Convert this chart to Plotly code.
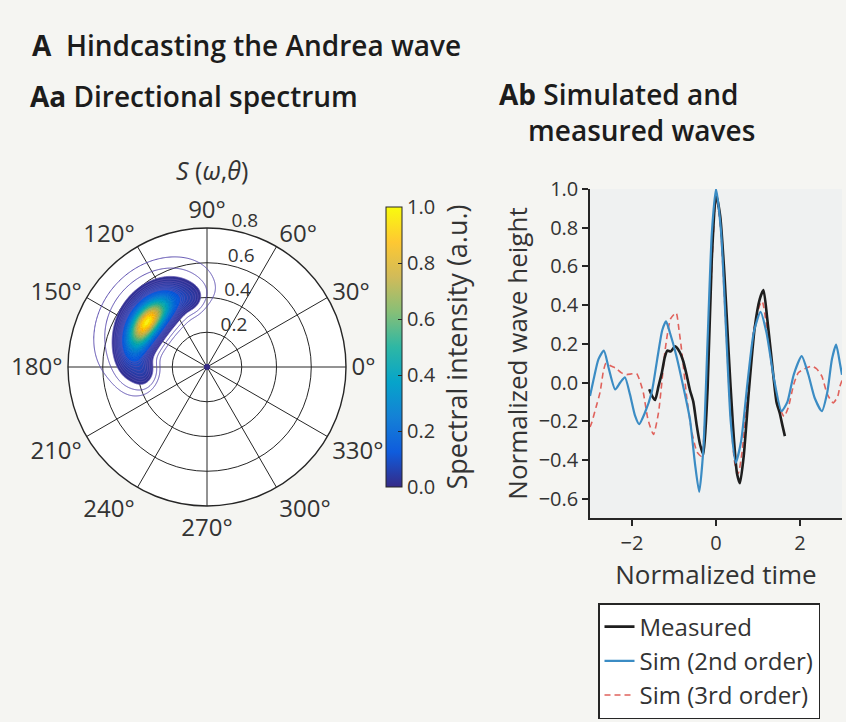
import numpy as np
import plotly.graph_objects as go
from plotly.colors import sample_colorscale

W, H = 846, 722
FONT = "Open Sans"
INK = "#262626"
TXT = "#333333"

# ---------------- wave records (normalized time vs normalized height) ----------------
t_meas = [-1.59, -1.52, -1.45, -1.37, -1.29, -1.22, -1.16, -1.08, -0.97, -0.87, -0.78,
          -0.70, -0.62, -0.54, -0.46, -0.38, -0.30, -0.20, -0.10, 0.0, 0.10, 0.20,
          0.30, 0.40, 0.50, 0.57, 0.66, 0.78, 0.92, 1.04, 1.13, 1.22, 1.32, 1.44,
          1.52, 1.58, 1.64]
h_meas = [-0.035, -0.07, -0.09, -0.02, 0.05, 0.13, 0.165, 0.16, 0.187, 0.16, 0.11,
          0.04, -0.04, -0.10, -0.22, -0.32, -0.372, -0.03, 0.64, 0.97, 0.86, 0.56,
          0.16, -0.21, -0.47, -0.52, -0.38, -0.05, 0.28, 0.43, 0.478, 0.33, 0.13, -0.10,
          -0.16, -0.22, -0.277]

t_sim2 = [-3.0, -2.90, -2.80, -2.67, -2.55, -2.40, -2.28, -2.17, -2.05, -1.93, -1.83,
          -1.70, -1.53, -1.40, -1.28, -1.19, -1.10, -0.94, -0.78, -0.62, -0.50, -0.40,
          -0.30, -0.20, -0.10, 0.0, 0.12, 0.235, 0.35, 0.47, 0.60, 0.75, 0.90, 1.06,
          1.20, 1.38, 1.56, 1.70, 1.85, 2.04, 2.20, 2.35, 2.52, 2.65, 2.76, 2.86, 2.95, 3.0]
h_sim2 = [-0.07, 0.03, 0.12, 0.165, 0.07, -0.036, 0.0, 0.027, -0.06, -0.17, -0.215,
          -0.16, -0.05, 0.12, 0.27, 0.316, 0.26, 0.135, -0.02, -0.19, -0.42, -0.565,
          -0.34, 0.22, 0.77, 1.0, 0.78, 0.29, -0.20, -0.415, -0.30, 0.0, 0.26, 0.365,
          0.26, 0.02, -0.148, -0.10, 0.04, 0.136, 0.04, -0.08, -0.148, -0.05, 0.12, 0.196, 0.10, 0.04]

t_sim3 = [-3.0, -2.96, -2.86, -2.76, -2.68, -2.62, -2.50, -2.40, -2.25, -2.13, -2.0,
          -1.89, -1.80, -1.73, -1.62, -1.49, -1.37, -1.29, -1.21, -1.08, -0.95, -0.88,
          -0.82, -0.70, -0.58, -0.45, -0.35, -0.25, -0.12, 0.0, 0.10, 0.22, 0.35, 0.45,
          0.53, 0.62, 0.75, 0.90, 1.04, 1.10, 1.20, 1.35, 1.50, 1.62, 1.72, 1.85, 1.96,
          2.10, 2.28, 2.40, 2.52, 2.65, 2.79, 2.90, 2.95, 3.0]
h_sim3 = [-0.23, -0.208, -0.13, -0.05, 0.06, 0.10, 0.085, 0.076, 0.05, 0.041, 0.045,
          0.046, 0.0, -0.053, -0.19, -0.268, -0.157, 0.0, 0.17, 0.33, 0.36, 0.27,
          0.17, -0.07, -0.25, -0.36, -0.38, -0.15, 0.50, 0.96, 0.82, 0.35, -0.18, -0.42,
          -0.47, -0.36, -0.05, 0.27, 0.40, 0.42, 0.30, 0.05, -0.12, -0.175, -0.13, -0.01, 0.05,
          0.07, 0.084, 0.07, 0.033, -0.06, -0.105, -0.07, -0.02, 0.01]

time_ticks = [-2, 0, 2]
height_ticks = [-0.6, -0.4, -0.2, 0.0, 0.2, 0.4, 0.6, 0.8, 1.0]

# ---------------- directional spectrum S(omega, theta) ----------------
# spectral lobes: mean direction (deg), mean radius, directional spread (deg),
# radial spread, relative weight
lobe_dir = [143, 144, 135, 183, 104, 138]
lobe_rad = [0.43, 0.43, 0.50, 0.37, 0.40, 0.50]
lobe_dir_spread = [12, 17, 13, 8, 6, 24]
lobe_rad_spread = [0.045, 0.05, 0.045, 0.04, 0.04, 0.10]
lobe_weight = [0.8, 1.0, 0.12, 0.08, 0.04, 0.04]

radial_ticks = [0.2, 0.4, 0.6, 0.8]
colorbar_ticks = [0.0, 0.2, 0.4, 0.6, 0.8, 1.0]
outline_levels = [0.0025, 0.007]
fill_levels = [0.018, 0.026, 0.035, 0.045, 0.057, 0.07, 0.085, 0.1, 0.115] + \
    [round(v, 3) for v in np.arange(0.13, 0.99, 0.02)]

PARULA = [[0.0, "#352a87"], [0.125, "#0f5cdd"], [0.25, "#1481d6"], [0.375, "#06a4ca"],
          [0.5, "#2eb7a4"], [0.625, "#87bf77"], [0.75, "#d1bb59"], [0.875, "#fec832"],
          [1.0, "#f9fb0e"]]


def spectrum(theta_deg, r):
    f = np.zeros(np.broadcast(theta_deg, r).shape)
    for t0, r0, st, sr, a in zip(lobe_dir, lobe_rad, lobe_dir_spread, lobe_rad_spread, lobe_weight):
        dth = (theta_deg - t0 + 180.0) % 360.0 - 180.0
        f = f + a * np.exp(-0.5 * (dth / st) ** 2 - 0.5 * ((r - r0) / sr) ** 2)
    return f


# locate the spectral peak and normalise
tg, rg = np.meshgrid(np.arange(80, 220, 0.5), np.arange(0.15, 0.75, 0.0025))
fg = spectrum(tg, rg)
peak = np.unravel_index(np.argmax(fg), fg.shape)
th_p, r_p, f_max = tg[peak], rg[peak], fg[peak]

# iso-level curves traced along rays from the peak in the (theta, r) plane
phi = np.linspace(0, 2 * np.pi, 721)
s = np.arange(0, 4.2, 0.004)
TH = th_p + 30.0 * np.outer(np.cos(phi), s)
RR = np.clip(r_p + 0.1 * np.outer(np.sin(phi), s), 0, None)
FF = spectrum(TH, RR) / f_max


def iso_curve(level):
    below = FF < level
    idx = np.where(below.any(axis=1), below.argmax(axis=1), len(s) - 1)
    idx = np.clip(idx, 1, len(s) - 1)
    rows = np.arange(len(phi))
    f0, f1 = FF[rows, idx - 1], FF[rows, idx]
    w = np.clip((f0 - level) / np.where(f0 - f1 == 0, 1, f0 - f1), 0, 1)
    th = TH[rows, idx - 1] + w * (TH[rows, idx] - TH[rows, idx - 1])
    rr = RR[rows, idx - 1] + w * (RR[rows, idx] - RR[rows, idx - 1])
    return rr, th


fig = go.Figure()

for lv in outline_levels:
    rr, th = iso_curve(lv)
    fig.add_trace(go.Scatterpolar(r=rr, theta=th, mode="lines", showlegend=False, hoverinfo="skip",
                                  line=dict(color="#5a4cae", width=1)))

for lv in fill_levels:
    rr, th = iso_curve(lv)
    c = sample_colorscale(PARULA, [lv])[0]
    fig.add_trace(go.Scatterpolar(r=rr, theta=th, mode="lines", fill="toself", fillcolor=c,
                                  showlegend=False, hoverinfo="skip",
                                  line=dict(color=c if lv > 0.12 else "#6457b4", width=0.8)))

# colour bar for the spectral intensity
fig.add_trace(go.Scatterpolar(
    r=[0], theta=[0], mode="markers", showlegend=False, hoverinfo="skip",
    marker=dict(size=0, color=[0], colorscale=PARULA, cmin=0, cmax=1, showscale=True,
                colorbar=dict(
                    x=386 / W, xanchor="left", xpad=0, y=1 - 347 / H, yanchor="middle", ypad=0,
                    len=280, lenmode="pixels", thickness=16, thicknessmode="pixels",
                    outlinecolor=INK, outlinewidth=1,
                    tickvals=colorbar_ticks, ticktext=[f"{v:.1f}" for v in colorbar_ticks],
                    ticks="inside", ticklen=4, tickcolor=INK,
                    tickfont=dict(family=FONT, size=20, color=TXT),
                    title=dict(text="Spectral intensity (a.u.)", side="right",
                               font=dict(family=FONT, size=27, color=TXT))))))

# time series
fig.add_trace(go.Scatter(x=t_sim3, y=h_sim3, mode="lines", name="Sim (3rd order)", legendrank=3,
                         line=dict(color="#e0625c", width=1.6, dash="6px,4px", shape="spline", smoothing=0.6),
                         xaxis="x", yaxis="y"))
fig.add_trace(go.Scatter(x=t_meas, y=h_meas, mode="lines", name="Measured", legendrank=1,
                         line=dict(color="#1e1e1e", width=2.6, shape="spline", smoothing=0.6),
                         xaxis="x", yaxis="y"))
fig.add_trace(go.Scatter(x=t_sim2, y=h_sim2, mode="lines", name="Sim (2nd order)", legendrank=2,
                         line=dict(color="#3b8cc4", width=2.2, shape="spline", smoothing=0.6),
                         xaxis="x", yaxis="y"))

fig.update_layout(
    width=W, height=H,
    margin=dict(l=0, r=0, t=0, b=0),
    paper_bgcolor="#f5f5f2",
    plot_bgcolor="#eff1f1",
    font=dict(family=FONT, color=TXT),
    polar=dict(
        domain=dict(x=[68 / W, 346 / W], y=[1 - 506 / H, 1 - 228 / H]),
        bgcolor="white",
        radialaxis=dict(range=[0, 0.8], tickvals=radial_ticks,
                        ticktext=[f"{v:.1f}<br>\u00a0" for v in radial_ticks],
                        angle=84, tickangle=84, showline=False, ticks="", gridcolor=INK, gridwidth=1.1,
                        layer="below traces", tickfont=dict(family=FONT, size=19, color=TXT)),
        angularaxis=dict(dtick=30, direction="counterclockwise", rotation=0, showline=True,
                         linecolor=INK, linewidth=1.4, gridcolor=INK, gridwidth=1.1, ticks="",
                         layer="below traces", tickfont=dict(family=FONT, size=24, color=TXT)),
    ),
    xaxis=dict(domain=[590 / W, 842 / W], range=[-3, 3], tickvals=time_ticks, anchor="y",
               ticks="outside", ticklen=6, tickwidth=1.5, tickcolor=INK, showline=True,
               linecolor=INK, linewidth=1.5, showgrid=False, zeroline=False, automargin=False,
               tickfont=dict(family=FONT, size=20, color=TXT),
               title=dict(text="Normalized time", font=dict(family=FONT, size=26, color=TXT), standoff=4)),
    yaxis=dict(domain=[1 - 518 / H, 1 - 189 / H], range=[-0.7, 1.0], tickvals=height_ticks,
               tickformat=".1f", anchor="x",
               ticks="outside", ticklen=6, tickwidth=1.5, tickcolor=INK, showline=True,
               linecolor=INK, linewidth=1.5, showgrid=False, zeroline=False, automargin=False,
               tickfont=dict(family=FONT, size=20, color=TXT),
               title=dict(text="Normalized wave height", font=dict(family=FONT, size=26, color=TXT), standoff=4)),
    legend=dict(x=598 / W, y=1 - 603 / H, xanchor="left", yanchor="top", bgcolor="white",
                bordercolor=INK, borderwidth=1.5, font=dict(family=FONT, size=24, color=TXT),
                itemwidth=30, tracegroupgap=0),
    showlegend=True,
)

heads = [
    ("<b>A</b>  Hindcasting the Andrea wave", 30, 45),
    ("<b>Aa</b> Directional spectrum", 28, 96),
    ("<b>Ab</b> Simulated and<br>\u00a0\u00a0\u00a0\u00a0measured waves", 497, 112),
]
for txt, x, y in heads:
    fig.add_annotation(text=txt, x=x / W, y=1 - y / H, xref="paper", yref="paper",
                       xanchor="left", yanchor="middle", align="left", showarrow=False,
                       font=dict(family=FONT, size=28, weight=600, color="#1c1c1c"))

fig.add_annotation(text="<i>S</i> (<i>ω</i>,<i>θ</i>)", x=212 / W, y=1 - 170 / H, xref="paper", yref="paper",
                   xanchor="center", yanchor="middle", showarrow=False,
                   font=dict(family=FONT, size=25, color=TXT))

fig.write_html("out.html")
